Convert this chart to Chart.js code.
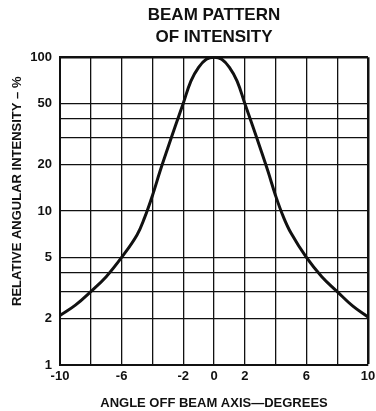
<!DOCTYPE html>
<html>
<head>
<meta charset="utf-8">
<script src="https://cdn.jsdelivr.net/npm/chart.js@4/dist/chart.umd.min.js"></script>
<style>
  html, body { margin: 0; padding: 0; background: #fff; }
  canvas { display: block; }
</style>
</head>
<body>
<canvas id="beamChart" width="376" height="411"></canvas>
<script>
// Beam pattern data
const angles = [-10, -9, -8, -7, -6, -5, -4.5, -4, -3.5, -3, -2.5, -2, -1.5, -1, -0.5, 0,
  0.5, 1, 1.5, 2, 2.5, 3, 3.5, 4, 4.5, 5, 6, 7, 8, 9, 10];
const intensity = [2.1, 2.45, 3.0, 3.75, 5.0, 7.0, 9.1, 12.6, 18.2, 25.7, 36, 50, 70, 86, 97, 100,
  97, 86, 70, 50, 36, 25.7, 18.2, 12.6, 9.2, 7.2, 5.0, 3.75, 3.0, 2.42, 2.05];

const xLabels = [-10, -6, -2, 0, 2, 6, 10];
const yGridValues = [1, 2, 3, 4, 5, 10, 20, 30, 40, 50, 100];
const yLabels = [1, 2, 5, 10, 20, 50, 100];

const fontFamily = '"Liberation Sans", Arial, Helvetica, sans-serif';
const ink = '#111';

const ctx = document.getElementById('beamChart');
new Chart(ctx, {
  type: 'line',
  data: {
    datasets: [{
      data: angles.map((a, i) => ({ x: a, y: intensity[i] })),
      borderColor: ink,
      borderWidth: 3,
      pointRadius: 0,
      fill: false,
      tension: 0.4
    }]
  },
  options: {
    responsive: false,
    devicePixelRatio: 1,
    animation: false,
    layout: { padding: { left: 0, right: 0, top: 0, bottom: 0 } },
    plugins: {
      legend: { display: false },
      tooltip: { enabled: false },
      title: {
        display: true,
        text: ['BEAM PATTERN', 'OF INTENSITY'],
        fullSize: false,
        color: ink,
        font: { family: fontFamily, size: 17, weight: 'bold', lineHeight: 1.3 },
        padding: { top: 4, bottom: 9 }
      }
    },
    scales: {
      x: {
        type: 'linear',
        min: -10,
        max: 10,
        afterFit: s => {
          s.height = 46;
          s.paddingRight = 8;
        },
        border: { display: true, color: ink, width: 2 },
        grid: {
          color: ink,
          lineWidth: c => (c.tick && c.tick.value === 10 ? 2.5 : 1.3),
          drawTicks: false,
          tickLength: 0
        },
        ticks: {
          stepSize: 2,
          autoSkip: false,
          maxRotation: 0,
          padding: 4,
          color: ink,
          font: { family: fontFamily, size: 13, weight: 'bold' },
          callback: v => (xLabels.includes(v) ? String(v) : '')
        },
        title: {
          display: true,
          text: 'ANGLE OFF BEAM AXIS\u2014DEGREES',
          color: ink,
          font: { family: fontFamily, size: 13, weight: 'bold' },
          padding: { top: 11, bottom: 0 }
        }
      },
      y: {
        type: 'logarithmic',
        min: 1,
        max: 100,
        afterFit: s => {
          s.width = 60;
        },
        border: { display: true, color: ink, width: 2 },
        afterBuildTicks: axis => {
          axis.ticks = yGridValues.map(v => ({ value: v }));
        },
        grid: {
          color: ink,
          lineWidth: c => (c.tick && c.tick.value === 100 ? 2.5 : 1.3),
          drawTicks: false,
          tickLength: 0
        },
        ticks: {
          autoSkip: false,
          padding: 8,
          color: ink,
          font: { family: fontFamily, size: 13, weight: 'bold' },
          callback: v => (yLabels.includes(v) ? String(v) : '')
        },
        title: {
          display: true,
          // leading spaces nudge the label up, as in the original
          text: '           RELATIVE ANGULAR INTENSITY \u2013 %',
          color: ink,
          font: { family: fontFamily, size: 13, weight: 'bold' },
          padding: { top: 10, bottom: 5 }
        }
      }
    }
  }
});
</script>
</body>
</html>
